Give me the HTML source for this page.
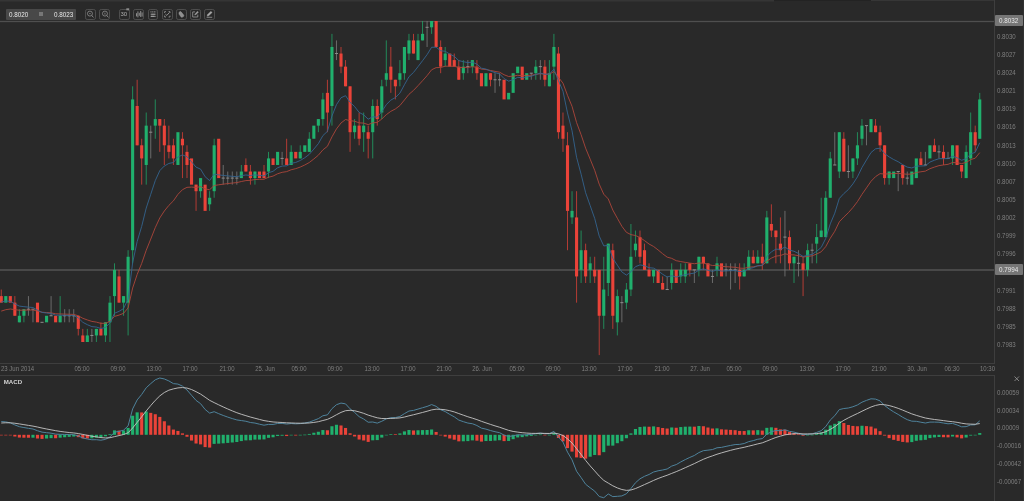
<!DOCTYPE html>
<html><head><meta charset="utf-8"><title>Chart</title>
<style>
html,body{margin:0;padding:0;background:#292929;}
body{width:1024px;height:501px;position:relative;overflow:hidden;font-family:"Liberation Sans",sans-serif;}
.pl{position:absolute;left:997.3px;height:10px;line-height:10px;font-size:6.5px;color:#7f7f7f;white-space:nowrap;transform:scaleX(0.94);transform-origin:0 50%;}
.tl{position:absolute;top:364.3px;width:40px;height:10px;line-height:10px;font-size:6.4px;color:#7f7f7f;text-align:center;white-space:nowrap;transform:scaleX(0.94);}
.tag{position:absolute;left:994.5px;width:28.5px;height:11.4px;line-height:11.2px;background:#767676;color:#e8e8e8;font-size:6.3px;text-align:center;border-radius:1px;}
.topbar{position:absolute;left:0;top:0;width:774px;height:2px;background:linear-gradient(#383838,#2c2c2c);}
.topbar2{position:absolute;left:774px;top:0;width:97px;height:1px;background:#232323;}
.topbar3{position:absolute;left:871px;top:0;width:124px;height:1px;background:#363636;}
.redge{position:absolute;left:1023px;top:0;width:1px;height:501px;background:#313131;}
.qbox{position:absolute;left:6px;top:9px;width:70px;height:11px;background:#484848;border-radius:1px;color:#e8e8e8;font-size:6.3px;line-height:11px;}
.qbox span{position:absolute;top:0;}
.btn{position:absolute;top:8.7px;width:8.9px;height:8.9px;border:0.8px solid #4e4e4e;border-radius:2.2px;}
.macd{position:absolute;left:3.8px;top:377.4px;font-size:6.1px;font-weight:bold;color:#d4d4d4;line-height:9px;}
</style></head><body>
<div class="topbar"></div><div class="topbar2"></div><div class="topbar3"></div><div class="redge"></div>
<div style="position:absolute;left:0;top:0;width:1024px;height:501px;will-change:transform">
<div class="qbox"><span style="left:3px">0.8020</span><span style="left:33px;top:2.9px;width:4.4px;height:4.4px;background:#777"></span><span style="left:48px">0.8023</span></div>
<div class="btn" style="left:85.25px"><svg width="10.6" height="10.6" viewBox="0 0 10.6 10.6" style="position:absolute;left:-0.85px;top:-0.55px;overflow:visible" fill="none" stroke="#9c9c9c" stroke-width="0.7"><circle cx="4.95" cy="4.6" r="2.5"/><path d="M6.8 6.6L8.5 8.3" stroke-width="0.9"/><path d="M4.2 4.6H5.7"/></svg></div><div class="btn" style="left:99.4px"><svg width="10.6" height="10.6" viewBox="0 0 10.6 10.6" style="position:absolute;left:-0.85px;top:-0.55px;overflow:visible" fill="none" stroke="#9c9c9c" stroke-width="0.7"><circle cx="4.95" cy="4.6" r="2.5"/><path d="M6.8 6.6L8.5 8.3" stroke-width="0.9"/><path d="M4.95 3.7V5.6"/></svg></div><div class="btn" style="left:119.1px"><svg width="10.6" height="10.6" viewBox="0 0 10.6 10.6" style="position:absolute;left:-0.85px;top:-0.55px;overflow:visible" fill="none" stroke="#9c9c9c" stroke-width="0.7"><text x="1.5" y="7.5" font-size="6" fill="#b0b0b0" stroke="none" font-family="Liberation Sans">30</text><rect x="7.3" y="-0.7" width="2.9" height="2" fill="#8c8c8c" stroke="none"/></svg></div><div class="btn" style="left:133.4px"><svg width="10.6" height="10.6" viewBox="0 0 10.6 10.6" style="position:absolute;left:-0.85px;top:-0.55px;overflow:visible" fill="none" stroke="#9c9c9c" stroke-width="0.7"><path d="M2.5 4.2V7.4M3.9 2.4V8.4M5.3 3.8V6.8M6.7 2V8M8.1 3.4V7.6" stroke-width="0.75" stroke="#b0b0b0"/></svg></div><div class="btn" style="left:147.6px"><svg width="10.6" height="10.6" viewBox="0 0 10.6 10.6" style="position:absolute;left:-0.85px;top:-0.55px;overflow:visible" fill="none" stroke="#9c9c9c" stroke-width="0.7"><path d="M2.4 2.9H8.2" stroke-width="0.9" stroke-dasharray="1.2 0.5"/><path d="M2.4 5.2H8.2M2.4 7.4H8.2" stroke-width="0.6"/><path d="M3.2 5.2H7M3 7.4H6.6" stroke-width="1.1"/></svg></div><div class="btn" style="left:161.9px"><svg width="10.6" height="10.6" viewBox="0 0 10.6 10.6" style="position:absolute;left:-0.85px;top:-0.55px;overflow:visible" fill="none" stroke="#9c9c9c" stroke-width="0.7"><path d="M2.6 4V2.6H4M6.6 2.6H8V4M8 6.6V8H6.6M4 8H2.6V6.6" stroke-width="0.8"/><path d="M3.4 5.2L4.8 6.4L7.4 3.6" stroke-width="0.9"/></svg></div><div class="btn" style="left:175.7px"><svg width="10.6" height="10.6" viewBox="0 0 10.6 10.6" style="position:absolute;left:-0.85px;top:-0.55px;overflow:visible" fill="none" stroke="#9c9c9c" stroke-width="0.7"><path transform="translate(0.7 0.9) scale(0.86)" d="M3.2 2.4C3.8 1.8 4.8 1.9 5.3 2.5L8.1 6C8.5 6.5 8.4 7.2 7.9 7.6L6.7 8.4C6.2 8.8 5.5 8.7 5.1 8.2L3 5.4C2.4 4.5 2.5 3.1 3.2 2.4Z" fill="#8f8f8f" stroke="#a8a8a8" stroke-width="0.5"/></svg></div><div class="btn" style="left:189.8px"><svg width="10.6" height="10.6" viewBox="0 0 10.6 10.6" style="position:absolute;left:-0.85px;top:-0.55px;overflow:visible" fill="none" stroke="#9c9c9c" stroke-width="0.7"><path d="M7.8 5.6V8H2.7V2.9H5" stroke-width="0.8"/><path d="M4.6 6.1L5 4.9L7.5 2.2L8.5 3.2L5.9 5.8Z" fill="#a0a0a0" stroke-width="0.3"/></svg></div><div class="btn" style="left:204px"><svg width="10.6" height="10.6" viewBox="0 0 10.6 10.6" style="position:absolute;left:-0.85px;top:-0.55px;overflow:visible" fill="none" stroke="#9c9c9c" stroke-width="0.7"><path d="M3 7.2L3.5 5.6L6.9 2.2L8.2 3.5L4.8 6.8Z" fill="#a8a8a8" stroke-width="0.3"/><path d="M2.6 8.3H8.2" stroke-width="0.8"/></svg></div>
<svg width="1024" height="501" viewBox="0 0 1024 501" style="position:absolute;left:0;top:0">
<defs><clipPath id="cm"><rect x="0" y="21" width="994" height="342"/></clipPath><clipPath id="cd"><rect x="0" y="376" width="994" height="126"/></clipPath></defs>
<rect x="0" y="20" width="995" height="3" fill="#2e2e2e"/><rect x="0" y="21" width="995" height="1" fill="#4f4f4f"/>
<rect x="0" y="269" width="995" height="2" fill="#484848"/>
<g clip-path="url(#cm)">
<path d="M19.38 309.21V322.32M23.91 309.21V322.32M60.15 296.1V322.32M87.33 328.88V341.99M96.39 328.88V341.99M105.45 322.32V341.99M109.98 296.1V341.99M114.51 263.32V315.77M123.57 296.1V315.77M128.1 250.21V335.44M132.63 86.31V263.32M146.22 112.53V184.65M155.28 99.42V138.76M200.58 178.09V197.76M209.64 191.2V210.87M214.17 138.76V197.76M241.35 164.98V178.09M254.94 171.54V184.65M268.53 151.87V178.09M291.18 145.31V164.98M300.24 145.31V158.42M309.3 132.2V151.87M318.36 119.09V132.2M322.89 92.86V125.64M331.95 33.86V125.64M354.6 119.09V138.76M363.66 112.53V151.87M372.72 99.42V158.42M381.78 79.75V119.09M386.31 40.42V86.31M399.9 60.08V86.31M404.43 46.97V79.75M408.96 33.86V60.08M418.02 33.86V60.08M422.55 14.19V40.42M431.61 14.19V33.86M445.2 46.97V66.64M463.32 60.08V79.75M472.38 60.08V73.2M535.8 60.08V79.75M549.39 60.08V86.31M553.92 33.86V79.75M572.04 191.2V223.98M581.1 230.54V282.99M590.16 256.76V282.99M603.75 256.76V328.88M608.28 243.65V296.1M617.34 289.54V335.44M626.4 282.99V309.21M630.93 223.98V296.1M635.46 230.54V256.76M653.58 269.88V282.99M671.7 263.32V289.54M680.76 263.32V282.99M685.29 263.32V282.99M698.88 256.76V276.43M717 256.76V276.43M744.18 263.32V276.43M748.71 250.21V269.88M757.77 250.21V263.32M766.83 210.87V263.32M794.01 256.76V282.99M807.6 243.65V276.43M816.66 223.98V263.32M821.19 197.76V237.1M825.72 191.2V237.1M830.25 151.87V197.76M839.31 132.2V178.09M852.9 158.42V178.09M857.43 132.2V164.98M861.96 119.09V145.31M889.14 171.54V184.65M952.56 145.31V164.98M966.15 145.31V178.09M970.68 112.53V164.98M979.74 92.86V138.76" stroke="#20b06d" stroke-width="0.72" fill="none"/>
<path d="M1.26 289.54V302.66M14.85 296.1V315.77M78.27 315.77V335.44M82.8 328.88V341.99M100.92 322.32V335.44M119.04 269.88V302.66M137.16 79.75V145.31M141.69 138.76V184.65M159.81 119.09V151.87M164.34 119.09V164.98M168.87 125.64V158.42M173.4 138.76V164.98M182.46 132.2V178.09M186.99 145.31V178.09M196.05 184.65V210.87M245.88 158.42V171.54M250.41 164.98V184.65M264 164.98V178.09M286.65 138.76V164.98M327.42 79.75V132.2M341.01 46.97V73.2M345.54 60.08V86.31M350.07 86.31V151.87M359.13 112.53V145.31M368.19 125.64V158.42M377.25 99.42V125.64M390.84 46.97V92.86M395.37 79.75V99.42M413.49 33.86V53.53M440.67 40.42V73.2M454.26 53.53V66.64M458.79 60.08V79.75M476.91 60.08V79.75M490.5 73.2V86.31M544.86 60.08V86.31M558.45 46.97V138.76M562.98 112.53V151.87M567.51 132.2V250.21M576.57 191.2V302.66M585.63 243.65V282.99M594.69 256.76V282.99M599.22 269.88V355.1M612.81 243.65V328.88M639.99 230.54V263.32M644.52 243.65V269.88M649.05 263.32V276.43M662.64 276.43V289.54M689.82 263.32V276.43M703.41 256.76V269.88M739.65 263.32V289.54M753.24 250.21V263.32M762.3 243.65V269.88M771.36 204.32V237.1M775.89 230.54V263.32M780.42 217.43V263.32M789.48 230.54V269.88M803.07 256.76V296.1M843.84 132.2V171.54M875.55 119.09V132.2M880.08 125.64V151.87M884.61 145.31V184.65M902.73 164.98V184.65M920.85 151.87V164.98M934.44 138.76V151.87M943.5 145.31V164.98M961.62 164.98V178.09M975.21 125.64V151.87" stroke="#ea4339" stroke-width="0.72" fill="none"/>
<path d="M28.44 296.1V315.77M32.97 309.21V322.32M51.09 296.1V315.77M64.68 309.21V322.32M69.21 309.21V322.32M73.74 309.21V322.32M91.86 328.88V341.99M150.75 125.64V158.42M223.23 164.98V184.65M227.76 171.54V184.65M232.29 171.54V184.65M236.82 171.54V184.65M282.12 151.87V164.98M336.48 40.42V60.08M427.08 14.19V46.97M467.85 60.08V73.2M495.03 73.2V92.86M499.56 73.2V86.31M531.27 73.2V79.75M540.33 60.08V79.75M621.87 296.1V322.32M667.17 276.43V289.54M694.35 269.88V282.99M712.47 269.88V282.99M726.06 263.32V276.43M730.59 263.32V289.54M735.12 263.32V282.99M784.95 210.87V276.43M798.54 250.21V276.43M812.13 243.65V263.32M834.78 132.2V164.98M848.37 145.31V178.09M866.49 125.64V145.31M898.2 171.54V191.2M907.26 171.54V184.65M925.38 151.87V164.98M938.97 145.31V158.42M948.03 151.87V158.42" stroke="#767676" stroke-width="0.85" fill="none"/>
<path d="M26.89 309.21H29.99M31.42 309.21H34.52M40.48 322.32H43.58M49.54 315.77H52.64M63.13 315.77H66.23M67.66 315.77H70.76M72.19 315.77H75.29M90.31 335.44H93.41M149.2 132.2H152.3M221.68 178.09H224.78M226.21 178.09H229.31M230.74 178.09H233.84M235.27 178.09H238.37M280.57 158.42H283.67M334.93 53.53H338.03M425.53 27.3H428.63M466.3 66.64H469.4M493.48 79.75H496.58M498.01 79.75H501.11M529.72 73.2H532.82M538.78 66.64H541.88M620.32 302.66H623.42M665.62 289.54H668.72M692.8 269.88H695.9M710.92 276.43H714.02M724.51 269.88H727.61M729.04 269.88H732.14M733.57 269.88H736.67M783.4 237.1H786.5M796.99 263.32H800.09M810.58 250.21H813.68M833.23 164.98H836.33M846.82 171.54H849.92M864.94 125.64H868.04M896.65 171.54H899.75M905.71 178.09H908.81M923.83 164.98H926.93M937.42 151.87H940.52M946.48 158.42H949.58" stroke="#8e8e8e" stroke-width="1" fill="none"/>
<g fill="#20b06d"><rect x="4.24" y="296.1" width="3.1" height="6.56"/><rect x="17.83" y="315.77" width="3.1" height="6.56"/><rect x="22.36" y="309.21" width="3.1" height="6.56"/><rect x="45.01" y="315.77" width="3.1" height="6.56"/><rect x="58.6" y="315.77" width="3.1" height="6.56"/><rect x="85.78" y="335.44" width="3.1" height="6.56"/><rect x="94.84" y="328.88" width="3.1" height="6.56"/><rect x="103.9" y="322.32" width="3.1" height="13.11"/><rect x="108.43" y="302.66" width="3.1" height="19.67"/><rect x="112.96" y="269.88" width="3.1" height="26.22"/><rect x="122.02" y="296.1" width="3.1" height="6.56"/><rect x="126.55" y="256.76" width="3.1" height="45.89"/><rect x="131.08" y="99.42" width="3.1" height="150.79"/><rect x="144.67" y="125.64" width="3.1" height="39.34"/><rect x="153.73" y="119.09" width="3.1" height="6.56"/><rect x="176.38" y="132.2" width="3.1" height="32.78"/><rect x="199.03" y="178.09" width="3.1" height="13.11"/><rect x="208.09" y="197.76" width="3.1" height="6.56"/><rect x="212.62" y="145.31" width="3.1" height="45.89"/><rect x="239.8" y="171.54" width="3.1" height="6.56"/><rect x="253.39" y="171.54" width="3.1" height="6.56"/><rect x="266.98" y="158.42" width="3.1" height="13.11"/><rect x="276.04" y="151.87" width="3.1" height="13.11"/><rect x="289.63" y="151.87" width="3.1" height="13.11"/><rect x="298.69" y="151.87" width="3.1" height="6.56"/><rect x="303.22" y="145.31" width="3.1" height="6.56"/><rect x="307.75" y="138.76" width="3.1" height="13.11"/><rect x="312.28" y="125.64" width="3.1" height="13.11"/><rect x="316.81" y="119.09" width="3.1" height="6.56"/><rect x="321.34" y="99.42" width="3.1" height="19.67"/><rect x="330.4" y="46.97" width="3.1" height="59"/><rect x="353.05" y="125.64" width="3.1" height="6.56"/><rect x="362.11" y="125.64" width="3.1" height="6.56"/><rect x="371.17" y="105.98" width="3.1" height="26.22"/><rect x="380.23" y="86.31" width="3.1" height="26.22"/><rect x="384.76" y="73.2" width="3.1" height="6.56"/><rect x="398.35" y="73.2" width="3.1" height="6.56"/><rect x="402.88" y="46.97" width="3.1" height="26.22"/><rect x="407.41" y="40.42" width="3.1" height="13.11"/><rect x="416.47" y="40.42" width="3.1" height="19.67"/><rect x="421" y="33.86" width="3.1" height="6.56"/><rect x="430.06" y="14.19" width="3.1" height="13.11"/><rect x="443.65" y="53.53" width="3.1" height="6.56"/><rect x="461.77" y="66.64" width="3.1" height="6.56"/><rect x="470.83" y="60.08" width="3.1" height="6.56"/><rect x="484.42" y="73.2" width="3.1" height="13.11"/><rect x="507.07" y="92.86" width="3.1" height="6.56"/><rect x="511.6" y="73.2" width="3.1" height="19.67"/><rect x="516.13" y="66.64" width="3.1" height="6.56"/><rect x="525.19" y="73.2" width="3.1" height="6.56"/><rect x="534.25" y="66.64" width="3.1" height="6.56"/><rect x="547.84" y="73.2" width="3.1" height="13.11"/><rect x="552.37" y="46.97" width="3.1" height="19.67"/><rect x="570.49" y="210.87" width="3.1" height="6.56"/><rect x="579.55" y="250.21" width="3.1" height="19.67"/><rect x="588.61" y="263.32" width="3.1" height="6.56"/><rect x="602.2" y="289.54" width="3.1" height="26.22"/><rect x="606.73" y="243.65" width="3.1" height="39.34"/><rect x="615.79" y="296.1" width="3.1" height="26.22"/><rect x="624.85" y="289.54" width="3.1" height="13.11"/><rect x="629.38" y="256.76" width="3.1" height="32.78"/><rect x="633.91" y="243.65" width="3.1" height="6.56"/><rect x="652.03" y="269.88" width="3.1" height="6.56"/><rect x="670.15" y="269.88" width="3.1" height="13.11"/><rect x="679.21" y="269.88" width="3.1" height="6.56"/><rect x="683.74" y="269.88" width="3.1" height="6.56"/><rect x="697.33" y="256.76" width="3.1" height="13.11"/><rect x="715.45" y="263.32" width="3.1" height="6.56"/><rect x="742.63" y="269.88" width="3.1" height="6.56"/><rect x="747.16" y="256.76" width="3.1" height="13.11"/><rect x="756.22" y="256.76" width="3.1" height="6.56"/><rect x="765.28" y="217.43" width="3.1" height="45.89"/><rect x="792.46" y="256.76" width="3.1" height="6.56"/><rect x="806.05" y="250.21" width="3.1" height="19.67"/><rect x="815.11" y="237.1" width="3.1" height="6.56"/><rect x="819.64" y="230.54" width="3.1" height="6.56"/><rect x="824.17" y="197.76" width="3.1" height="39.34"/><rect x="828.7" y="158.42" width="3.1" height="39.34"/><rect x="837.76" y="132.2" width="3.1" height="39.34"/><rect x="851.35" y="158.42" width="3.1" height="13.11"/><rect x="855.88" y="145.31" width="3.1" height="13.11"/><rect x="860.41" y="125.64" width="3.1" height="13.11"/><rect x="869.47" y="119.09" width="3.1" height="13.11"/><rect x="887.59" y="171.54" width="3.1" height="6.56"/><rect x="892.12" y="171.54" width="3.1" height="6.56"/><rect x="910.24" y="171.54" width="3.1" height="13.11"/><rect x="914.77" y="158.42" width="3.1" height="19.67"/><rect x="928.36" y="145.31" width="3.1" height="13.11"/><rect x="951.01" y="145.31" width="3.1" height="13.11"/><rect x="964.6" y="151.87" width="3.1" height="26.22"/><rect x="969.13" y="132.2" width="3.1" height="26.22"/><rect x="978.19" y="99.42" width="3.1" height="39.34"/></g>
<g fill="#ea4339"><rect x="-0.29" y="296.1" width="3.1" height="6.56"/><rect x="8.77" y="296.1" width="3.1" height="6.56"/><rect x="13.3" y="302.66" width="3.1" height="13.11"/><rect x="35.95" y="302.66" width="3.1" height="19.67"/><rect x="54.07" y="315.77" width="3.1" height="6.56"/><rect x="76.72" y="315.77" width="3.1" height="13.11"/><rect x="81.25" y="335.44" width="3.1" height="6.56"/><rect x="99.37" y="328.88" width="3.1" height="6.56"/><rect x="117.49" y="276.43" width="3.1" height="26.22"/><rect x="135.61" y="105.98" width="3.1" height="39.34"/><rect x="140.14" y="145.31" width="3.1" height="13.11"/><rect x="158.26" y="119.09" width="3.1" height="6.56"/><rect x="162.79" y="125.64" width="3.1" height="19.67"/><rect x="167.32" y="145.31" width="3.1" height="6.56"/><rect x="171.85" y="145.31" width="3.1" height="13.11"/><rect x="180.91" y="138.76" width="3.1" height="6.56"/><rect x="185.44" y="151.87" width="3.1" height="13.11"/><rect x="189.97" y="158.42" width="3.1" height="26.22"/><rect x="194.5" y="184.65" width="3.1" height="6.56"/><rect x="203.56" y="184.65" width="3.1" height="26.22"/><rect x="217.15" y="138.76" width="3.1" height="39.34"/><rect x="244.33" y="164.98" width="3.1" height="6.56"/><rect x="248.86" y="171.54" width="3.1" height="6.56"/><rect x="257.92" y="171.54" width="3.1" height="6.56"/><rect x="262.45" y="171.54" width="3.1" height="6.56"/><rect x="271.51" y="158.42" width="3.1" height="6.56"/><rect x="285.1" y="158.42" width="3.1" height="6.56"/><rect x="294.16" y="151.87" width="3.1" height="6.56"/><rect x="325.87" y="92.86" width="3.1" height="19.67"/><rect x="339.46" y="53.53" width="3.1" height="13.11"/><rect x="343.99" y="66.64" width="3.1" height="19.67"/><rect x="348.52" y="86.31" width="3.1" height="45.89"/><rect x="357.58" y="125.64" width="3.1" height="13.11"/><rect x="366.64" y="132.2" width="3.1" height="6.56"/><rect x="375.7" y="105.98" width="3.1" height="13.11"/><rect x="389.29" y="66.64" width="3.1" height="13.11"/><rect x="393.82" y="79.75" width="3.1" height="6.56"/><rect x="411.94" y="40.42" width="3.1" height="13.11"/><rect x="434.59" y="14.19" width="3.1" height="32.78"/><rect x="439.12" y="46.97" width="3.1" height="19.67"/><rect x="448.18" y="53.53" width="3.1" height="13.11"/><rect x="452.71" y="60.08" width="3.1" height="6.56"/><rect x="457.24" y="66.64" width="3.1" height="13.11"/><rect x="475.36" y="66.64" width="3.1" height="6.56"/><rect x="479.89" y="73.2" width="3.1" height="13.11"/><rect x="488.95" y="73.2" width="3.1" height="6.56"/><rect x="502.54" y="79.75" width="3.1" height="19.67"/><rect x="520.66" y="66.64" width="3.1" height="13.11"/><rect x="543.31" y="66.64" width="3.1" height="13.11"/><rect x="556.9" y="53.53" width="3.1" height="78.67"/><rect x="561.43" y="125.64" width="3.1" height="13.11"/><rect x="565.96" y="145.31" width="3.1" height="65.56"/><rect x="575.02" y="217.43" width="3.1" height="59"/><rect x="584.08" y="250.21" width="3.1" height="26.22"/><rect x="593.14" y="269.88" width="3.1" height="6.56"/><rect x="597.67" y="269.88" width="3.1" height="45.89"/><rect x="611.26" y="250.21" width="3.1" height="65.56"/><rect x="638.44" y="237.1" width="3.1" height="19.67"/><rect x="642.97" y="250.21" width="3.1" height="19.67"/><rect x="647.5" y="269.88" width="3.1" height="6.56"/><rect x="656.56" y="269.88" width="3.1" height="13.11"/><rect x="661.09" y="282.99" width="3.1" height="6.56"/><rect x="674.68" y="269.88" width="3.1" height="13.11"/><rect x="688.27" y="263.32" width="3.1" height="6.56"/><rect x="701.86" y="256.76" width="3.1" height="6.56"/><rect x="706.39" y="263.32" width="3.1" height="13.11"/><rect x="719.98" y="263.32" width="3.1" height="13.11"/><rect x="738.1" y="269.88" width="3.1" height="6.56"/><rect x="751.69" y="256.76" width="3.1" height="6.56"/><rect x="760.75" y="256.76" width="3.1" height="6.56"/><rect x="769.81" y="223.98" width="3.1" height="6.56"/><rect x="774.34" y="230.54" width="3.1" height="6.56"/><rect x="778.87" y="243.65" width="3.1" height="6.56"/><rect x="787.93" y="237.1" width="3.1" height="26.22"/><rect x="801.52" y="263.32" width="3.1" height="6.56"/><rect x="842.29" y="138.76" width="3.1" height="32.78"/><rect x="874" y="125.64" width="3.1" height="6.56"/><rect x="878.53" y="132.2" width="3.1" height="13.11"/><rect x="883.06" y="145.31" width="3.1" height="32.78"/><rect x="901.18" y="164.98" width="3.1" height="13.11"/><rect x="919.3" y="158.42" width="3.1" height="6.56"/><rect x="932.89" y="145.31" width="3.1" height="6.56"/><rect x="941.95" y="151.87" width="3.1" height="6.56"/><rect x="955.54" y="145.31" width="3.1" height="19.67"/><rect x="960.07" y="164.98" width="3.1" height="6.56"/><rect x="973.66" y="132.2" width="3.1" height="13.11"/></g>
<path d="M1.26 311.11 L5.79 309.68 L10.32 309.01 L14.85 309.66 L19.38 310.24 L23.91 310.14 L28.44 310.05 L32.97 309.97 L37.5 311.15 L42.03 312.21 L46.56 312.55 L51.09 312.86 L55.62 313.76 L60.15 313.95 L64.68 314.12 L69.21 314.28 L73.74 314.42 L78.27 315.8 L82.8 318.29 L87.33 319.93 L91.86 321.4 L96.39 322.12 L100.92 323.38 L105.45 323.28 L109.98 321.32 L114.51 316.42 L119.04 315.11 L123.57 313.3 L128.1 307.91 L132.63 288.06 L137.16 274.46 L141.69 263.41 L146.22 250.29 L150.75 239.04 L155.28 227.62 L159.81 217.91 L164.34 210.99 L168.87 205.36 L173.4 200.89 L177.93 194.35 L182.46 189.68 L186.99 187.33 L191.52 187.07 L196.05 187.47 L200.58 186.57 L205.11 188.89 L209.64 189.73 L214.17 185.5 L218.7 184.8 L223.23 184.16 L227.76 183.58 L232.29 183.06 L236.82 182.58 L241.35 181.53 L245.88 180.58 L250.41 180.34 L254.94 179.5 L259.47 179.37 L264 179.25 L268.53 177.26 L273.06 176.09 L277.59 173.79 L282.12 172.32 L286.65 171.62 L291.18 169.74 L295.71 168.67 L300.24 167.07 L304.77 164.99 L309.3 162.49 L313.83 158.99 L318.36 155.19 L322.89 149.87 L327.42 146.32 L331.95 136.86 L336.48 128.92 L341.01 122.99 L345.54 119.5 L350.07 120.71 L354.6 121.18 L359.13 122.85 L363.66 123.12 L368.19 124.61 L372.72 122.83 L377.25 122.47 L381.78 119.03 L386.31 114.67 L390.84 111.34 L395.37 108.96 L399.9 105.55 L404.43 99.97 L408.96 94.3 L413.49 90.42 L418.02 85.65 L422.55 80.72 L427.08 75.63 L431.61 69.78 L436.14 67.61 L440.67 67.52 L445.2 66.19 L449.73 66.23 L454.26 66.27 L458.79 67.55 L463.32 67.47 L467.85 67.39 L472.38 66.69 L476.91 67.31 L481.44 69.12 L485.97 69.51 L490.5 70.48 L495.03 71.37 L499.56 72.17 L504.09 74.76 L508.62 76.48 L513.15 76.17 L517.68 75.26 L522.21 75.69 L526.74 75.45 L531.27 75.24 L535.8 74.42 L540.33 73.68 L544.86 74.26 L549.39 74.16 L553.92 71.57 L558.45 77.34 L562.98 83.19 L567.51 95.35 L572.04 106.35 L576.57 122.55 L581.1 134.71 L585.63 148.21 L590.16 159.17 L594.69 170.34 L599.22 184.19 L603.75 194.22 L608.28 198.93 L612.81 210.06 L617.34 218.25 L621.87 226.29 L626.4 232.31 L630.93 234.64 L635.46 235.5 L639.99 237.53 L644.52 240.61 L649.05 244.02 L653.58 246.48 L658.11 249.96 L662.64 253.73 L667.17 257.14 L671.7 258.35 L676.23 260.7 L680.76 261.57 L685.29 262.36 L689.82 263.08 L694.35 263.73 L698.88 263.06 L703.41 263.09 L707.94 264.36 L712.47 265.51 L717 265.3 L721.53 266.36 L726.06 266.69 L730.59 267 L735.12 267.27 L739.65 268.14 L744.18 268.31 L748.71 267.21 L753.24 266.84 L757.77 265.88 L762.3 265.64 L766.83 261.04 L771.36 258.14 L775.89 256.14 L780.42 255.57 L784.95 253.81 L789.48 254.72 L794.01 254.91 L798.54 255.71 L803.07 257.06 L807.6 256.41 L812.13 255.82 L816.66 254.04 L821.19 251.8 L825.72 246.65 L830.25 238.25 L834.78 231.27 L839.31 221.84 L843.84 217.04 L848.37 212.71 L852.9 207.54 L857.43 201.61 L861.96 194.38 L866.49 187.83 L871.02 181.29 L875.55 176.61 L880.08 173.63 L884.61 174.05 L889.14 173.81 L893.67 173.6 L898.2 173.4 L902.73 173.85 L907.26 174.25 L911.79 173.99 L916.32 172.51 L920.85 171.79 L925.38 171.14 L929.91 168.68 L934.44 167.08 L938.97 165.63 L943.5 164.95 L948.03 164.33 L952.56 162.52 L957.09 162.75 L961.62 163.59 L966.15 162.47 L970.68 159.59 L975.21 158.23 L979.74 152.63" stroke="#ad463b" stroke-width="0.9" fill="none"/>
<path d="M1.26 302.12 L5.79 301.02 L10.32 301.32 L14.85 303.95 L19.38 306.1 L23.91 306.66 L28.44 307.13 L32.97 307.51 L37.5 310.2 L42.03 312.4 L46.56 313.02 L51.09 313.52 L55.62 315.12 L60.15 315.24 L64.68 315.33 L69.21 315.41 L73.74 315.48 L78.27 317.91 L82.8 322.29 L87.33 324.68 L91.86 326.64 L96.39 327.04 L100.92 328.57 L105.45 327.43 L109.98 322.93 L114.51 313.28 L119.04 311.35 L123.57 308.58 L128.1 299.16 L132.63 262.84 L137.16 241.47 L141.69 226.37 L146.22 208.06 L150.75 194.27 L155.28 180.6 L159.81 170.61 L164.34 166.01 L168.87 163.44 L173.4 162.52 L177.93 157.01 L182.46 154.88 L186.99 156.72 L191.52 161.8 L196.05 167.14 L200.58 169.13 L205.11 176.72 L209.64 180.55 L214.17 174.14 L218.7 174.86 L223.23 175.45 L227.76 175.93 L232.29 176.32 L236.82 176.64 L241.35 175.71 L245.88 174.96 L250.41 175.53 L254.94 174.8 L259.47 175.4 L264 175.89 L268.53 172.71 L273.06 171.31 L277.59 167.77 L282.12 166.07 L286.65 165.87 L291.18 163.33 L295.71 162.44 L300.24 160.51 L304.77 157.75 L309.3 154.3 L313.83 149.09 L318.36 143.63 L322.89 135.59 L327.42 131.4 L331.95 116.05 L336.48 104.68 L341.01 97.77 L345.54 95.68 L350.07 102.32 L354.6 106.56 L359.13 112.42 L363.66 114.82 L368.19 119.17 L372.72 116.77 L377.25 117.19 L381.78 111.58 L386.31 104.6 L390.84 100.08 L395.37 97.58 L399.9 93.14 L404.43 84.75 L408.96 76.69 L413.49 72.48 L418.02 66.65 L422.55 60.69 L427.08 54.62 L431.61 47.27 L436.14 47.21 L440.67 50.75 L445.2 51.25 L449.73 54.05 L454.26 56.34 L458.79 60.6 L463.32 61.69 L467.85 62.59 L472.38 62.14 L476.91 64.15 L481.44 68.18 L485.97 69.09 L490.5 71.03 L495.03 72.61 L499.56 73.91 L504.09 78.55 L508.62 81.15 L513.15 79.71 L517.68 77.33 L522.21 77.77 L526.74 76.94 L531.27 76.26 L535.8 74.51 L540.33 73.08 L544.86 74.29 L549.39 74.09 L553.92 69.16 L558.45 80.62 L562.98 91.19 L567.51 112.95 L572.04 130.76 L576.57 157.24 L581.1 174.15 L585.63 192.74 L590.16 205.58 L594.69 218.46 L599.22 236.15 L603.75 245.86 L608.28 245.46 L612.81 258.24 L617.34 265.12 L621.87 271.95 L626.4 275.15 L630.93 271.81 L635.46 266.69 L639.99 264.88 L644.52 265.79 L649.05 267.73 L653.58 268.12 L658.11 270.82 L662.64 274.22 L667.17 277.01 L671.7 275.71 L676.23 277.04 L680.76 275.73 L685.29 274.67 L689.82 273.8 L694.35 273.08 L698.88 270.12 L703.41 268.88 L707.94 270.25 L712.47 271.38 L717 269.91 L721.53 271.1 L726.06 270.88 L730.59 270.69 L735.12 270.55 L739.65 271.62 L744.18 271.3 L748.71 268.66 L753.24 267.69 L757.77 265.7 L762.3 265.27 L766.83 256.57 L771.36 251.84 L775.89 249.16 L780.42 249.35 L784.95 247.12 L789.48 250.07 L794.01 251.28 L798.54 253.47 L803.07 256.45 L807.6 255.32 L812.13 254.39 L816.66 251.25 L821.19 247.48 L825.72 238.44 L830.25 223.89 L834.78 213.18 L839.31 198.46 L843.84 193.56 L848.37 189.56 L852.9 183.9 L857.43 176.88 L861.96 167.57 L866.49 159.94 L871.02 152.52 L875.55 148.82 L880.08 148.18 L884.61 153.62 L889.14 156.88 L893.67 159.54 L898.2 161.72 L902.73 164.7 L907.26 167.13 L911.79 167.94 L916.32 166.21 L920.85 165.98 L925.38 165.8 L929.91 162.08 L934.44 160.22 L938.97 158.7 L943.5 158.65 L948.03 158.61 L952.56 156.19 L957.09 157.79 L961.62 160.29 L966.15 158.76 L970.68 153.93 L975.21 152.36 L979.74 142.74" stroke="#34648f" stroke-width="0.9" fill="none"/>
</g>
<g clip-path="url(#cd)">
<g fill="#20b06d"><rect x="31.42" y="434.8" width="3.1" height="2.89"/><rect x="45.01" y="434.8" width="3.1" height="3.72"/><rect x="49.54" y="434.8" width="3.1" height="3.35"/><rect x="58.6" y="434.8" width="3.1" height="2.9"/><rect x="63.13" y="434.8" width="3.1" height="2.44"/><rect x="67.66" y="434.8" width="3.1" height="2.05"/><rect x="72.19" y="434.8" width="3.1" height="1.72"/><rect x="90.31" y="434.8" width="3.1" height="3.53"/><rect x="94.84" y="434.8" width="3.1" height="2.79"/><rect x="99.37" y="434.8" width="3.1" height="2.62"/><rect x="103.9" y="434.8" width="3.1" height="1.44"/><rect x="108.43" y="434.03" width="3.1" height="0.77"/><rect x="112.96" y="430.38" width="3.1" height="4.42"/><rect x="122.02" y="430.47" width="3.1" height="4.33"/><rect x="126.55" y="427.9" width="3.1" height="6.9"/><rect x="131.08" y="415.73" width="3.1" height="19.07"/><rect x="135.61" y="412.35" width="3.1" height="22.45"/><rect x="144.67" y="411.55" width="3.1" height="23.25"/><rect x="212.62" y="434.8" width="3.1" height="9.07"/><rect x="217.15" y="434.8" width="3.1" height="8.85"/><rect x="221.68" y="434.8" width="3.1" height="8.52"/><rect x="226.21" y="434.8" width="3.1" height="8.12"/><rect x="230.74" y="434.8" width="3.1" height="7.68"/><rect x="235.27" y="434.8" width="3.1" height="7.22"/><rect x="239.8" y="434.8" width="3.1" height="6.29"/><rect x="244.33" y="434.8" width="3.1" height="5.57"/><rect x="248.86" y="434.8" width="3.1" height="5.46"/><rect x="253.39" y="434.8" width="3.1" height="4.81"/><rect x="257.92" y="434.8" width="3.1" height="4.76"/><rect x="262.45" y="434.8" width="3.1" height="4.61"/><rect x="266.98" y="434.8" width="3.1" height="3.04"/><rect x="271.51" y="434.8" width="3.1" height="2.48"/><rect x="276.04" y="434.8" width="3.1" height="1.2"/><rect x="280.57" y="434.8" width="3.1" height="0.91"/><rect x="289.63" y="434.8" width="3.1" height="0.6"/><rect x="298.69" y="434.8" width="3.1" height="0.6"/><rect x="303.22" y="434.63" width="3.1" height="0.6"/><rect x="307.75" y="433.94" width="3.1" height="0.86"/><rect x="312.28" y="432.74" width="3.1" height="2.06"/><rect x="316.81" y="431.76" width="3.1" height="3.04"/><rect x="321.34" y="430.05" width="3.1" height="4.75"/><rect x="330.4" y="426.24" width="3.1" height="8.56"/><rect x="334.93" y="424.77" width="3.1" height="10.03"/><rect x="371.17" y="434.8" width="3.1" height="5.51"/><rect x="375.7" y="434.8" width="3.1" height="5.3"/><rect x="380.23" y="434.8" width="3.1" height="2.77"/><rect x="384.76" y="434.8" width="3.1" height="0.6"/><rect x="389.29" y="434.1" width="3.1" height="0.7"/><rect x="398.35" y="433.43" width="3.1" height="1.37"/><rect x="402.88" y="431.39" width="3.1" height="3.41"/><rect x="407.41" y="430" width="3.1" height="4.8"/><rect x="416.47" y="430.25" width="3.1" height="4.55"/><rect x="421" y="430.09" width="3.1" height="4.71"/><rect x="425.53" y="429.99" width="3.1" height="4.81"/><rect x="430.06" y="429.48" width="3.1" height="5.32"/><rect x="461.77" y="434.8" width="3.1" height="6.5"/><rect x="466.3" y="434.8" width="3.1" height="6.31"/><rect x="470.83" y="434.8" width="3.1" height="5.57"/><rect x="484.42" y="434.8" width="3.1" height="6.25"/><rect x="488.95" y="434.8" width="3.1" height="6.14"/><rect x="493.48" y="434.8" width="3.1" height="5.84"/><rect x="498.01" y="434.8" width="3.1" height="5.43"/><rect x="507.07" y="434.8" width="3.1" height="6.15"/><rect x="511.6" y="434.8" width="3.1" height="4.39"/><rect x="516.13" y="434.8" width="3.1" height="2.63"/><rect x="520.66" y="434.8" width="3.1" height="2.33"/><rect x="525.19" y="434.8" width="3.1" height="1.58"/><rect x="529.72" y="434.8" width="3.1" height="1.05"/><rect x="534.25" y="434.8" width="3.1" height="0.6"/><rect x="538.78" y="434.49" width="3.1" height="0.6"/><rect x="547.84" y="434.8" width="3.1" height="0.6"/><rect x="552.37" y="433.16" width="3.1" height="1.64"/><rect x="588.61" y="434.8" width="3.1" height="21.92"/><rect x="593.14" y="434.8" width="3.1" height="20.19"/><rect x="602.2" y="434.8" width="3.1" height="17.34"/><rect x="606.73" y="434.8" width="3.1" height="10.88"/><rect x="611.26" y="434.8" width="3.1" height="10.83"/><rect x="615.79" y="434.8" width="3.1" height="8.4"/><rect x="620.32" y="434.8" width="3.1" height="6.41"/><rect x="624.85" y="434.8" width="3.1" height="3.42"/><rect x="629.38" y="433.37" width="3.1" height="1.43"/><rect x="633.91" y="429" width="3.1" height="5.8"/><rect x="638.44" y="426.98" width="3.1" height="7.82"/><rect x="642.97" y="426.57" width="3.1" height="8.23"/><rect x="652.03" y="426.38" width="3.1" height="8.42"/><rect x="670.15" y="427.47" width="3.1" height="7.33"/><rect x="679.21" y="427.04" width="3.1" height="7.76"/><rect x="683.74" y="426.69" width="3.1" height="8.11"/><rect x="688.27" y="426.59" width="3.1" height="8.21"/><rect x="697.33" y="425.99" width="3.1" height="8.81"/><rect x="715.45" y="428.34" width="3.1" height="6.46"/><rect x="747.16" y="430.27" width="3.1" height="4.53"/><rect x="756.22" y="430.13" width="3.1" height="4.67"/><rect x="765.28" y="427.84" width="3.1" height="6.96"/><rect x="769.81" y="427.33" width="3.1" height="7.47"/><rect x="806.05" y="434.8" width="3.1" height="0.6"/><rect x="810.58" y="434.71" width="3.1" height="0.6"/><rect x="815.11" y="433.57" width="3.1" height="1.23"/><rect x="819.64" y="432.47" width="3.1" height="2.33"/><rect x="824.17" y="429.65" width="3.1" height="5.15"/><rect x="828.7" y="425.44" width="3.1" height="9.36"/><rect x="833.23" y="423.8" width="3.1" height="11"/><rect x="837.76" y="421.14" width="3.1" height="13.66"/><rect x="860.41" y="425.76" width="3.1" height="9.04"/><rect x="910.24" y="434.8" width="3.1" height="7.3"/><rect x="914.77" y="434.8" width="3.1" height="5.99"/><rect x="919.3" y="434.8" width="3.1" height="5.48"/><rect x="923.83" y="434.8" width="3.1" height="5.04"/><rect x="928.36" y="434.8" width="3.1" height="3.29"/><rect x="932.89" y="434.8" width="3.1" height="2.62"/><rect x="937.42" y="434.8" width="3.1" height="2.2"/><rect x="951.01" y="434.8" width="3.1" height="1.72"/><rect x="964.6" y="434.8" width="3.1" height="2.74"/><rect x="969.13" y="434.8" width="3.1" height="0.8"/><rect x="973.66" y="434.8" width="3.1" height="0.6"/><rect x="978.19" y="433.03" width="3.1" height="1.77"/></g>
<g fill="#ea4339"><rect x="-0.29" y="434.8" width="3.1" height="0.6"/><rect x="4.24" y="434.8" width="3.1" height="0.6"/><rect x="8.77" y="434.8" width="3.1" height="0.6"/><rect x="13.3" y="434.8" width="3.1" height="1.72"/><rect x="17.83" y="434.8" width="3.1" height="2.76"/><rect x="22.36" y="434.8" width="3.1" height="2.91"/><rect x="26.89" y="434.8" width="3.1" height="2.94"/><rect x="35.95" y="434.8" width="3.1" height="3.7"/><rect x="40.48" y="434.8" width="3.1" height="4.09"/><rect x="54.07" y="434.8" width="3.1" height="3.44"/><rect x="76.72" y="434.8" width="3.1" height="2.35"/><rect x="81.25" y="434.8" width="3.1" height="3.54"/><rect x="85.78" y="434.8" width="3.1" height="3.65"/><rect x="117.49" y="430.59" width="3.1" height="4.21"/><rect x="140.14" y="412.44" width="3.1" height="22.36"/><rect x="149.2" y="412.88" width="3.1" height="21.92"/><rect x="153.73" y="414.22" width="3.1" height="20.58"/><rect x="158.26" y="416.91" width="3.1" height="17.89"/><rect x="162.79" y="421.26" width="3.1" height="13.54"/><rect x="167.32" y="425.53" width="3.1" height="9.27"/><rect x="171.85" y="429.56" width="3.1" height="5.24"/><rect x="176.38" y="430.95" width="3.1" height="3.85"/><rect x="180.91" y="433.37" width="3.1" height="1.43"/><rect x="185.44" y="434.8" width="3.1" height="1.95"/><rect x="189.97" y="434.8" width="3.1" height="5.77"/><rect x="194.5" y="434.8" width="3.1" height="8.72"/><rect x="199.03" y="434.8" width="3.1" height="9.6"/><rect x="203.56" y="434.8" width="3.1" height="12.3"/><rect x="208.09" y="434.8" width="3.1" height="12.77"/><rect x="285.1" y="434.8" width="3.1" height="1.24"/><rect x="294.16" y="434.8" width="3.1" height="0.71"/><rect x="325.87" y="430.28" width="3.1" height="4.52"/><rect x="339.46" y="425.47" width="3.1" height="9.33"/><rect x="343.99" y="427.97" width="3.1" height="6.83"/><rect x="348.52" y="433.3" width="3.1" height="1.5"/><rect x="353.05" y="434.8" width="3.1" height="1.69"/><rect x="357.58" y="434.8" width="3.1" height="4.73"/><rect x="362.11" y="434.8" width="3.1" height="5.69"/><rect x="366.64" y="434.8" width="3.1" height="7.1"/><rect x="393.82" y="434.13" width="3.1" height="0.67"/><rect x="411.94" y="430.46" width="3.1" height="4.34"/><rect x="434.59" y="431.95" width="3.1" height="2.85"/><rect x="439.12" y="434.8" width="3.1" height="0.6"/><rect x="443.65" y="434.8" width="3.1" height="1.8"/><rect x="448.18" y="434.8" width="3.1" height="3.7"/><rect x="452.71" y="434.8" width="3.1" height="4.92"/><rect x="457.24" y="434.8" width="3.1" height="6.54"/><rect x="475.36" y="434.8" width="3.1" height="5.88"/><rect x="479.89" y="434.8" width="3.1" height="6.81"/><rect x="502.54" y="434.8" width="3.1" height="6.32"/><rect x="543.31" y="434.8" width="3.1" height="0.6"/><rect x="556.9" y="434.8" width="3.1" height="3.22"/><rect x="561.43" y="434.8" width="3.1" height="6.56"/><rect x="565.96" y="434.8" width="3.1" height="13.31"/><rect x="570.49" y="434.8" width="3.1" height="16.81"/><rect x="575.02" y="434.8" width="3.1" height="22.6"/><rect x="579.55" y="434.8" width="3.1" height="23.1"/><rect x="584.08" y="434.8" width="3.1" height="23.84"/><rect x="597.67" y="434.8" width="3.1" height="20.45"/><rect x="647.5" y="426.74" width="3.1" height="8.06"/><rect x="656.56" y="427.09" width="3.1" height="7.71"/><rect x="661.09" y="428" width="3.1" height="6.8"/><rect x="665.62" y="428.54" width="3.1" height="6.26"/><rect x="674.68" y="427.75" width="3.1" height="7.05"/><rect x="692.8" y="426.68" width="3.1" height="8.12"/><rect x="701.86" y="426.23" width="3.1" height="8.57"/><rect x="706.39" y="427.52" width="3.1" height="7.28"/><rect x="710.92" y="428.5" width="3.1" height="6.3"/><rect x="719.98" y="429.32" width="3.1" height="5.48"/><rect x="724.51" y="429.6" width="3.1" height="5.2"/><rect x="729.04" y="429.89" width="3.1" height="4.91"/><rect x="733.57" y="430.19" width="3.1" height="4.61"/><rect x="738.1" y="430.94" width="3.1" height="3.86"/><rect x="742.63" y="431.04" width="3.1" height="3.76"/><rect x="751.69" y="430.38" width="3.1" height="4.42"/><rect x="760.75" y="430.59" width="3.1" height="4.21"/><rect x="774.34" y="427.82" width="3.1" height="6.98"/><rect x="778.87" y="429.38" width="3.1" height="5.42"/><rect x="783.4" y="429.72" width="3.1" height="5.08"/><rect x="787.93" y="432.02" width="3.1" height="2.78"/><rect x="792.46" y="433.16" width="3.1" height="1.64"/><rect x="796.99" y="434.42" width="3.1" height="0.6"/><rect x="801.52" y="434.8" width="3.1" height="0.9"/><rect x="842.29" y="423.03" width="3.1" height="11.77"/><rect x="846.82" y="424.96" width="3.1" height="9.84"/><rect x="851.35" y="425.94" width="3.1" height="8.86"/><rect x="855.88" y="426.27" width="3.1" height="8.53"/><rect x="864.94" y="426.12" width="3.1" height="8.68"/><rect x="869.47" y="426.59" width="3.1" height="8.21"/><rect x="874" y="428.47" width="3.1" height="6.33"/><rect x="878.53" y="431.17" width="3.1" height="3.63"/><rect x="883.06" y="434.8" width="3.1" height="0.8"/><rect x="887.59" y="434.8" width="3.1" height="3.35"/><rect x="892.12" y="434.8" width="3.1" height="5.05"/><rect x="896.65" y="434.8" width="3.1" height="6.1"/><rect x="901.18" y="434.8" width="3.1" height="7.13"/><rect x="905.71" y="434.8" width="3.1" height="7.63"/><rect x="941.95" y="434.8" width="3.1" height="2.42"/><rect x="946.48" y="434.8" width="3.1" height="2.55"/><rect x="955.54" y="434.8" width="3.1" height="2.59"/><rect x="960.07" y="434.8" width="3.1" height="3.57"/></g>
<path d="M1.26 421.52 L5.79 421.89 L10.32 422.89 L14.85 424.95 L19.38 426.68 L23.91 427.55 L28.44 428.32 L32.97 429 L37.5 430.73 L42.03 432.14 L46.56 432.7 L51.09 433.17 L55.62 434.12 L60.15 434.3 L64.68 434.45 L69.21 434.57 L73.74 434.67 L78.27 435.89 L82.8 437.97 L87.33 438.99 L91.86 439.75 L96.39 439.71 L100.92 440.2 L105.45 439.38 L109.98 436.98 L114.51 432.22 L119.04 431.37 L123.57 430.18 L128.1 425.88 L132.63 408.94 L137.16 399.95 L141.69 394.44 L146.22 387.74 L150.75 383.6 L155.28 379.79 L159.81 378.01 L164.34 378.97 L168.87 380.93 L173.4 383.64 L177.93 384.08 L182.46 386.13 L186.99 390.01 L191.52 395.26 L196.05 400.4 L200.58 403.68 L205.11 409.45 L209.64 413.12 L214.17 411.69 L218.7 413.67 L223.23 415.47 L227.76 417.1 L232.29 418.58 L236.82 419.92 L241.35 420.57 L245.88 421.25 L250.41 422.5 L254.94 423.05 L259.47 424.19 L264 425.2 L268.53 424.39 L273.06 424.44 L277.59 423.47 L282.12 423.4 L286.65 424.05 L291.18 423.54 L295.71 423.83 L300.24 423.62 L304.77 423.02 L309.3 422.1 L313.83 420.4 L318.36 418.65 L322.89 415.76 L327.42 414.85 L331.95 408.67 L336.48 404.7 L341.01 403.07 L345.54 403.86 L350.07 408.82 L354.6 412.43 L359.13 416.65 L363.66 419.03 L368.19 422.21 L372.72 422 L377.25 423.12 L381.78 421.28 L386.31 418.86 L390.84 417.71 L395.37 417.57 L399.9 416.52 L404.43 413.63 L408.96 411.04 L413.49 410.41 L418.02 409.07 L422.55 407.73 L427.08 406.43 L431.61 404.59 L436.14 406.34 L440.67 409.74 L445.2 411.56 L449.73 414.38 L454.26 416.83 L458.79 420.09 L463.32 421.67 L467.85 423.06 L472.38 423.72 L476.91 425.5 L481.44 428.13 L485.97 429.14 L490.5 430.56 L495.03 431.72 L499.56 432.66 L504.09 435.14 L508.62 436.5 L513.15 435.84 L517.68 434.74 L522.21 435.02 L526.74 434.67 L531.27 434.39 L535.8 433.61 L540.33 433.02 L544.86 433.71 L549.39 433.69 L553.92 431.41 L558.45 437.07 L562.98 442.05 L567.51 452.13 L572.04 459.83 L576.57 471.28 L581.1 477.55 L585.63 484.25 L590.16 487.8 L594.69 491.12 L599.22 496.5 L603.75 497.73 L608.28 493.98 L612.81 496.64 L617.34 496.31 L621.87 495.93 L626.4 493.78 L630.93 488.59 L635.46 482.76 L639.99 478.79 L644.52 476.32 L649.05 474.48 L653.58 472.01 L658.11 470.8 L662.64 470.01 L667.17 468.98 L671.7 466.08 L676.23 464.59 L680.76 461.95 L685.29 459.57 L689.82 457.42 L694.35 455.48 L698.88 452.58 L703.41 450.68 L707.94 450.15 L712.47 449.56 L717 447.79 L721.53 447.39 L726.06 446.37 L730.59 445.43 L735.12 444.58 L739.65 444.37 L744.18 443.53 L748.71 441.63 L753.24 440.63 L757.77 439.22 L762.3 438.63 L766.83 434.13 L771.36 431.76 L775.89 430.5 L780.42 430.71 L784.95 429.77 L789.48 431.38 L794.01 432.11 L798.54 433.28 L803.07 434.78 L807.6 434.25 L812.13 433.84 L816.66 432.39 L821.19 430.71 L825.72 426.6 L830.25 420.05 L834.78 415.66 L839.31 409.59 L843.84 408.53 L848.37 408.01 L852.9 406.76 L857.43 404.97 L861.96 402.19 L866.49 400.39 L871.02 398.8 L875.55 399.1 L880.08 400.89 L884.61 405.52 L889.14 408.91 L893.67 411.87 L898.2 414.44 L902.73 417.26 L907.26 419.67 L911.79 421.16 L916.32 421.34 L920.85 422.21 L925.38 423.03 L929.91 422.1 L934.44 422.09 L938.97 422.22 L943.5 423.04 L948.03 423.81 L952.56 423.41 L957.09 424.93 L961.62 426.8 L966.15 426.65 L970.68 424.92 L975.21 424.81 L979.74 420.85" stroke="#4f839c" stroke-width="1" fill="none"/>
<path d="M1.26 423 L5.79 422.78 L10.32 422.8 L14.85 423.23 L19.38 423.92 L23.91 424.65 L28.44 425.38 L32.97 426.11 L37.5 427.03 L42.03 428.05 L46.56 428.98 L51.09 429.82 L55.62 430.68 L60.15 431.4 L64.68 432.01 L69.21 432.53 L73.74 432.95 L78.27 433.54 L82.8 434.43 L87.33 435.34 L91.86 436.22 L96.39 436.92 L100.92 437.58 L105.45 437.94 L109.98 437.74 L114.51 436.64 L119.04 435.59 L123.57 434.5 L128.1 432.78 L132.63 428.01 L137.16 422.4 L141.69 416.81 L146.22 410.99 L150.75 405.51 L155.28 400.37 L159.81 395.9 L164.34 392.51 L168.87 390.2 L173.4 388.88 L177.93 387.92 L182.46 387.57 L186.99 388.05 L191.52 389.5 L196.05 391.68 L200.58 394.08 L205.11 397.15 L209.64 400.34 L214.17 402.61 L218.7 404.82 L223.23 406.95 L227.76 408.98 L232.29 410.9 L236.82 412.71 L241.35 414.28 L245.88 415.67 L250.41 417.04 L254.94 418.24 L259.47 419.43 L264 420.58 L268.53 421.34 L273.06 421.96 L277.59 422.26 L282.12 422.49 L286.65 422.8 L291.18 422.95 L295.71 423.13 L300.24 423.23 L304.77 423.18 L309.3 422.97 L313.83 422.45 L318.36 421.69 L322.89 420.51 L327.42 419.38 L331.95 417.24 L336.48 414.73 L341.01 412.4 L345.54 410.69 L350.07 410.31 L354.6 410.74 L359.13 411.92 L363.66 413.34 L368.19 415.12 L372.72 416.49 L377.25 417.82 L381.78 418.51 L386.31 418.58 L390.84 418.41 L395.37 418.24 L399.9 417.9 L404.43 417.04 L408.96 415.84 L413.49 414.76 L418.02 413.62 L422.55 412.44 L427.08 411.24 L431.61 409.91 L436.14 409.19 L440.67 409.3 L445.2 409.76 L449.73 410.68 L454.26 411.91 L458.79 413.55 L463.32 415.17 L467.85 416.75 L472.38 418.14 L476.91 419.61 L481.44 421.32 L485.97 422.88 L490.5 424.42 L495.03 425.88 L499.56 427.23 L504.09 428.81 L508.62 430.35 L513.15 431.45 L517.68 432.11 L522.21 432.69 L526.74 433.09 L531.27 433.35 L535.8 433.4 L540.33 433.32 L544.86 433.4 L549.39 433.46 L553.92 433.05 L558.45 433.85 L562.98 435.49 L567.51 438.82 L572.04 443.02 L576.57 448.67 L581.1 454.45 L585.63 460.41 L590.16 465.89 L594.69 470.93 L599.22 476.05 L603.75 480.38 L608.28 483.1 L612.81 485.81 L617.34 487.91 L621.87 489.51 L626.4 490.37 L630.93 490.01 L635.46 488.56 L639.99 486.61 L644.52 484.55 L649.05 482.54 L653.58 480.43 L658.11 478.5 L662.64 476.8 L667.17 475.24 L671.7 473.41 L676.23 471.65 L680.76 469.71 L685.29 467.68 L689.82 465.63 L694.35 463.6 L698.88 461.39 L703.41 459.25 L707.94 457.43 L712.47 455.86 L717 454.24 L721.53 452.87 L726.06 451.57 L730.59 450.34 L735.12 449.19 L739.65 448.23 L744.18 447.29 L748.71 446.16 L753.24 445.05 L757.77 443.88 L762.3 442.83 L766.83 441.09 L771.36 439.23 L775.89 437.48 L780.42 436.13 L784.95 434.86 L789.48 434.16 L794.01 433.75 L798.54 433.66 L803.07 433.88 L807.6 433.95 L812.13 433.93 L816.66 433.62 L821.19 433.04 L825.72 431.75 L830.25 429.41 L834.78 426.66 L839.31 423.25 L843.84 420.3 L848.37 417.84 L852.9 415.63 L857.43 413.5 L861.96 411.24 L866.49 409.07 L871.02 407.01 L875.55 405.43 L880.08 404.52 L884.61 404.72 L889.14 405.56 L893.67 406.82 L898.2 408.35 L902.73 410.13 L907.26 412.04 L911.79 413.86 L916.32 415.36 L920.85 416.73 L925.38 417.99 L929.91 418.81 L934.44 419.47 L938.97 420.02 L943.5 420.62 L948.03 421.26 L952.56 421.69 L957.09 422.34 L961.62 423.23 L966.15 423.91 L970.68 424.11 L975.21 424.25 L979.74 423.57" stroke="#c6c6c6" stroke-width="0.9" fill="none"/>
</g>
<g fill="#3e3e3e">
<rect x="0" y="363" width="995" height="1"/>
<rect x="994" y="0" width="1" height="364"/>
<rect x="0" y="375" width="995" height="1"/>
<rect x="994" y="375" width="1" height="126"/>
</g>
<path d="M1014.5 376.5L1019 381M1019 376.5L1014.5 381" stroke="#9a9a9a" stroke-width="0.8" fill="none"/>
</svg>
<div class="tag" style="top:15px">0.8032</div>
<div class="tag" style="top:264px">0.7994</div>
<div class="macd">MACD</div>
<div class="pl" style="top:31.5px">0.8030</div>
<div class="pl" style="top:49.6px">0.8027</div>
<div class="pl" style="top:67.7px">0.8024</div>
<div class="pl" style="top:85.9px">0.8021</div>
<div class="pl" style="top:104.3px">0.8019</div>
<div class="pl" style="top:122.3px">0.8016</div>
<div class="pl" style="top:140.6px">0.8013</div>
<div class="pl" style="top:158.8px">0.8010</div>
<div class="pl" style="top:176.9px">0.8007</div>
<div class="pl" style="top:195px">0.8005</div>
<div class="pl" style="top:213px">0.8002</div>
<div class="pl" style="top:231px">0.7999</div>
<div class="pl" style="top:249px">0.7996</div>
<div class="pl" style="top:286px">0.7991</div>
<div class="pl" style="top:304px">0.7988</div>
<div class="pl" style="top:321.8px">0.7985</div>
<div class="pl" style="top:340.2px">0.7983</div>
<div class="pl" style="top:387.7px">0.00059</div>
<div class="pl" style="top:405.6px">0.00034</div>
<div class="pl" style="top:423.3px">0.00009</div>
<div class="pl" style="top:441.2px">-0.00016</div>
<div class="pl" style="top:459.1px">-0.00042</div>
<div class="pl" style="top:477.2px">-0.00067</div>
<div class="tl" style="left:61.5px">05:00</div>
<div class="tl" style="left:97.75px">09:00</div>
<div class="tl" style="left:134px">13:00</div>
<div class="tl" style="left:170.25px">17:00</div>
<div class="tl" style="left:206.5px">21:00</div>
<div class="tl" style="left:244.75px">25. Jun</div>
<div class="tl" style="left:279px">05:00</div>
<div class="tl" style="left:315.25px">09:00</div>
<div class="tl" style="left:351.5px">13:00</div>
<div class="tl" style="left:387.75px">17:00</div>
<div class="tl" style="left:424px">21:00</div>
<div class="tl" style="left:462.25px">26. Jun</div>
<div class="tl" style="left:496.5px">05:00</div>
<div class="tl" style="left:532.75px">09:00</div>
<div class="tl" style="left:569px">13:00</div>
<div class="tl" style="left:605.25px">17:00</div>
<div class="tl" style="left:641.5px">21:00</div>
<div class="tl" style="left:679.75px">27. Jun</div>
<div class="tl" style="left:714px">05:00</div>
<div class="tl" style="left:750.25px">09:00</div>
<div class="tl" style="left:786.5px">13:00</div>
<div class="tl" style="left:822.75px">17:00</div>
<div class="tl" style="left:859px">21:00</div>
<div class="tl" style="left:897.25px">30. Jun</div>
<div class="tl" style="left:931.5px">06:30</div>
<div class="tl" style="left:1px;width:auto;text-align:left;transform-origin:0 50%">23 Jun 2014</div>
<div class="tl" style="left:955px;width:40px;text-align:right;transform-origin:100% 50%">10:30</div>
</div>
</body></html>
